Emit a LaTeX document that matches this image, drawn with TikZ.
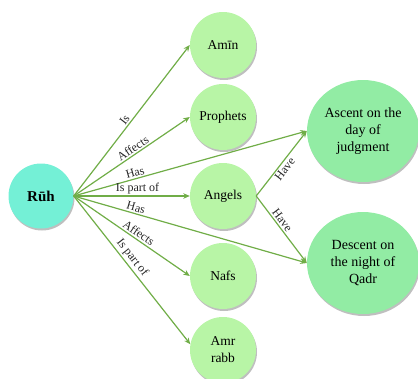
\documentclass[tikz,border=0pt]{standalone}
\usepackage{fontspec}
\setmainfont{Liberation Serif}
\usepackage{tikz}
\usetikzlibrary{arrows.meta,shapes.geometric,shadows}
\definecolor{ruhfill}{RGB}{116,240,214}
\definecolor{topicfill}{RGB}{184,245,166}
\definecolor{eventfill}{RGB}{146,236,164}
\definecolor{linkgreen}{RGB}{112,173,71}

\begin{document}
\begin{tikzpicture}[x=1pt,y=-1pt,
  shade/.style={drop shadow={shadow xshift=1pt,shadow yshift=-2pt,opacity=0.25,fill=black}},
  ruhnode/.style={circle,fill=ruhfill,minimum size=65pt,inner sep=0pt,shade,font=\fontsize{15}{17}\selectfont\bfseries},
  topic/.style={circle,fill=topicfill,minimum size=66pt,inner sep=0pt,align=center,shade,font=\fontsize{13.5}{17}\selectfont},
  event/.style={ellipse,fill=eventfill,minimum width=112pt,minimum height=102pt,inner sep=0pt,align=center,shade,font=\fontsize{14}{17}\selectfont},
  link/.style={draw=linkgreen,line width=1.2pt,-{Stealth[length=6.5pt,width=5.5pt]}},
  lbl/.style={sloped,inner sep=1.5pt,text=black!85,font=\fontsize{12}{14}\selectfont}]
\useasboundingbox (0,0) rectangle (418,378);
% nodes
\node[ruhnode] (ruh) at (41,196) {Rūh};
\node[topic] (amin) at (223,45) {Amīn};
\node[topic] (prophets) at (223,117) {Prophets};
\node[topic] (angels) at (223,196) {Angels};
\node[topic] (nafs) at (223,276) {Nafs};
\node[topic] (amr) at (223,350) {Amr\\rabb};
\node[event] (ascent) at (363,131) {Ascent on the\\day of\\judgment};
\node[event] (descent) at (363,263) {Descent on\\the night of\\Qadr};
% links
\draw[link] (ruh.east) -- node[lbl,above,pos=0.48] {Is} (amin.west);
\draw[link] (ruh.east) -- node[lbl,above,pos=0.54] {Affects} (prophets.west);
\draw[link] (ruh.east) -- node[lbl,above,pos=0.27] {Has} (ascent.west);
\draw[link] (ruh.east) -- node[lbl,above,pos=0.55] {Is part of} (angels.west);
\draw[link] (ruh.east) -- node[lbl,above,pos=0.26] {Has} (descent.west);
\draw[link] (ruh.east) -- node[lbl,above,pos=0.53] {Affects} (nafs.west);
\draw[link] (ruh.east) -- node[lbl,above,pos=0.45] {Is part of} (amr.170);
\draw[link] (angels.east) -- node[lbl,below,pos=0.47] {Have} (ascent.west);
\draw[link] (angels.east) -- node[lbl,above,pos=0.42] {Have} (descent.west);
\end{tikzpicture}
\end{document}
